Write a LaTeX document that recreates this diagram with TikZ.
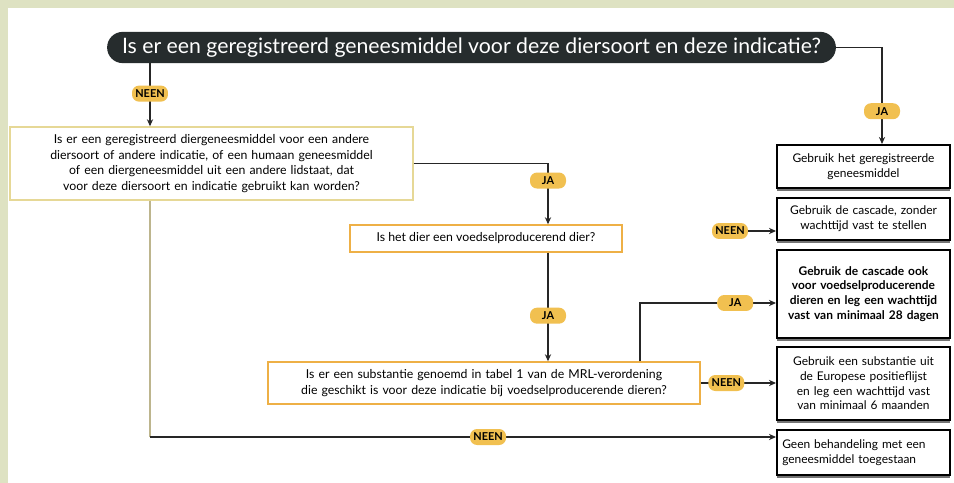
\documentclass[tikz,border=0pt]{standalone}
\usepackage{fontspec}
\setmainfont{Lato}
\usepackage{tikz}
\hyphenpenalty=10000
\exhyphenpenalty=10000
\definecolor{panelGreen}{RGB}{222,226,194}
\definecolor{pillDark}{RGB}{38,44,45}
\definecolor{tagGold}{RGB}{241,192,80}
\definecolor{boxYellow}{RGB}{230,216,150}
\definecolor{boxOrange}{RGB}{238,176,70}
\usetikzlibrary{arrows.meta, positioning, shadows, calc, shapes.misc}

\begin{document}
\begin{tikzpicture}[
    x=0.02cm, y=-0.02cm,
    question/.style={rounded rectangle, fill=pillDark, text=white, minimum width=14.86cm, minimum height=0.58cm, inner xsep=4pt, font=\fontsize{12.1}{13}\selectfont},
    askbox/.style={draw=boxYellow, line width=0.8pt, fill=white, align=center, inner sep=2pt, font=\fontsize{7}{8.8}\selectfont},
    endbox/.style={draw=black, line width=1.1pt, fill=white, align=center, text width=3.25cm, minimum width=3.46cm, inner sep=2pt,
        font=\fontsize{6.8}{8.4}\selectfont, drop shadow={shadow xshift=0pt, shadow yshift=-1.6pt, fill=black!55, opacity=1}},
    tag/.style={fill=tagGold, rounded corners=4pt, minimum width=0.72cm, minimum height=0.32cm, inner sep=1.5pt, font=\fontsize{6.2}{7}\selectfont\bfseries},
    link/.style={draw=black!85, line width=0.9pt},
    arr/.style={link, -{Stealth[length=4pt, width=3.5pt]}}
]
    % panel
    \fill[panelGreen] (0,0) rectangle (954,483);
    \fill[white] (8,8) rectangle (954,483);

    % questions
    \node[question] (q1) at (471.5,47.5) {Is er een geregistreerd geneesmiddel voor deze diersoort en deze indicatie?};
    \node[askbox, minimum width=8.06cm, minimum height=1.46cm, text width=7.7cm] (q2) at (211.5,163.5)
        {Is er een geregistreerd diergeneesmiddel voor een andere diersoort of andere indicatie, of een humaan geneesmiddel of een diergeneesmiddel uit een andere lidstaat, dat voor deze diersoort en indicatie gebruikt kan worden?};
    \node[askbox, draw=boxOrange, minimum width=5.44cm, minimum height=0.54cm] (q3) at (486,238.5)
        {Is het dier een voedselproducerend dier?};
    \node[askbox, draw=boxOrange, minimum width=8.64cm, minimum height=0.84cm, text width=8.3cm] (q4) at (484,383)
        {Is er een substantie genoemd in tabel 1 van de MRL-verordening die geschikt is voor deze indicatie bij voedselproducerende dieren?};

    % outcomes
    \node[endbox, minimum height=0.86cm] (r1) at (863.5,166.5) {Gebruik het geregistreerde geneesmiddel};
    \node[endbox, minimum height=0.84cm] (r2) at (863.5,219) {Gebruik de cascade, zonder wachttijd vast te stellen};
    \node[endbox, minimum height=1.76cm, font=\fontsize{6.8}{8.4}\selectfont\bfseries] (r3) at (863.5,294)
        {Gebruik de cascade ook voor voedselproducerende dieren en leg een wachttijd vast van minimaal 28 dagen};
    \node[endbox, minimum height=1.46cm] (r4) at (863.5,383.5)
        {Gebruik een substantie uit de Europese positieflijst en leg een wachttijd vast van minimaal 6 maanden};
    \node[endbox, minimum height=0.9cm, align=left] (r5) at (863.5,452.5) {Geen behandeling met een geneesmiddel toegestaan};

    % connectors
    \coordinate (cBend) at (150,437);
    \draw[arr] (q1.south -| 150,0) -- node[tag, pos=0.48] {NEEN} (q2.north -| 150,0);
    \draw[arr] (q1.east) -| node[tag, pos=0.83] {JA} (r1.north -| 882,0);
    \draw[arr] (q2.east) -| node[tag, pos=0.64] {JA} (q3.north -| 548,0);
    \draw[arr] (q3.south -| 548,0) -- node[tag, pos=0.58] {JA} (q4.north -| 548,0);
    \draw[arr] (q4.north -| 640,0) |- node[tag, pos=0.85] {JA} (r3.west |- 0,303);
    \draw[arr] (q4.east) -- node[tag, pos=0.34] {NEEN} (r4.west |- q4.east);
    \node[tag] (tNeen) at (730,231) {NEEN};
    \draw[arr] (tNeen.east) -- (r2.west |- tNeen.east);
    \draw[link, draw=boxYellow!60!gray] (q2.south -| cBend) -- (cBend);
    \draw[arr] (cBend) -- node[tag, pos=0.54] {NEEN} (r5.west |- cBend);
\end{tikzpicture}
\end{document}
